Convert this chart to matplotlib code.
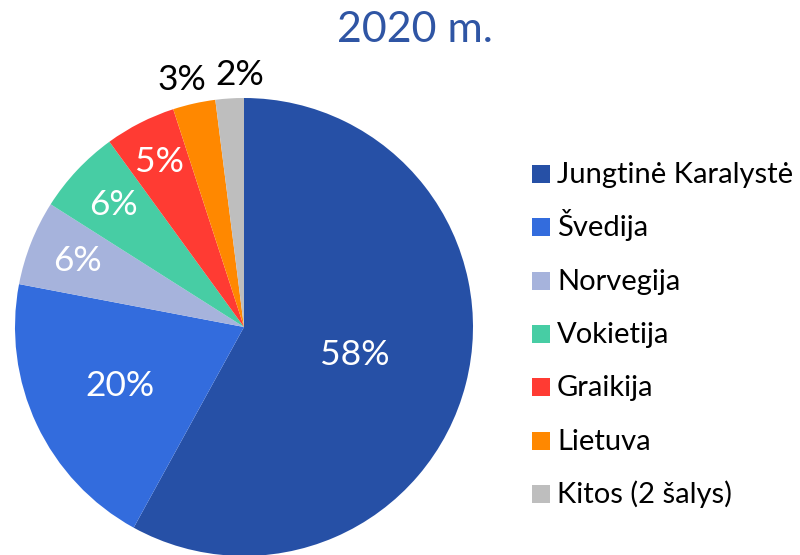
import matplotlib.pyplot as plt
from matplotlib.patches import Rectangle
import numpy as np

# duomenys
salys = ["Jungtinė Karalystė", "Švedija", "Norvegija", "Vokietija",
         "Graikija", "Lietuva", "Kitos (2 šalys)"]
dalys = [58, 20, 6, 6, 5, 3, 2]
spalvos = ["#2650A6", "#336CDD", "#A6B3DC", "#47CDA4", "#FF3B33", "#FF8800", "#BEBEBE"]
etiketes = ["58%", "20%", "6%", "6%", "5%", "3%", "2%"]

# etikeciu isdestymas (atstumas nuo centro, kampo pataisa)
atstumai = [0.5, 0.6, 0.78, 0.78, 0.81, 1.11, 1.1]
pataisa = [0, 0, 0, 0, 0, 1.5, -2.6]
etik_spalvos = ["white", "white", "white", "white", "white", "black", "black"]

plt.rcParams['font.family'] = ['Lato', 'DejaVu Sans']

W, H = 800, 555
fig = plt.figure(figsize=(W / 100, H / 100), dpi=100)
ax = fig.add_axes([15 / W, -1 / H, 458 / W, 458 / H])
wedges, _ = ax.pie(dalys, colors=spalvos, startangle=90, counterclock=False,
                   radius=1.0, wedgeprops=dict(linewidth=0))
ax.set_xlim(-1, 1)
ax.set_ylim(-1, 1)
ax.set_aspect('equal')
ax.axis('off')

for w, txt, r, d, c in zip(wedges, etiketes, atstumai, pataisa, etik_spalvos):
    ang = np.deg2rad((w.theta1 + w.theta2) / 2 + d)
    ax.text(r * np.cos(ang), r * np.sin(ang), txt, ha='center', va='center',
            fontsize=25.5, color=c, clip_on=False)

fig.text(415 / W, 1 - 30 / H, "2020 m.", ha='center', va='center',
         fontsize=31, color="#2F55A4")

# legenda - rankiniu budu, kad eilutes butu vienodai issidesciusios
for i, (w, name) in enumerate(zip(wedges, salys)):
    yc = 174 + i * 53.3
    fig.patches.append(Rectangle((532 / W, 1 - (yc + 9) / H), 18 / W, 18 / H,
                                 transform=fig.transFigure, color=w.get_facecolor(),
                                 linewidth=0))
    fig.text(557 / W, 1 - (yc + 9) / H, name, ha='left', va='baseline', fontsize=21)

fig.savefig("out.png", dpi=100)
